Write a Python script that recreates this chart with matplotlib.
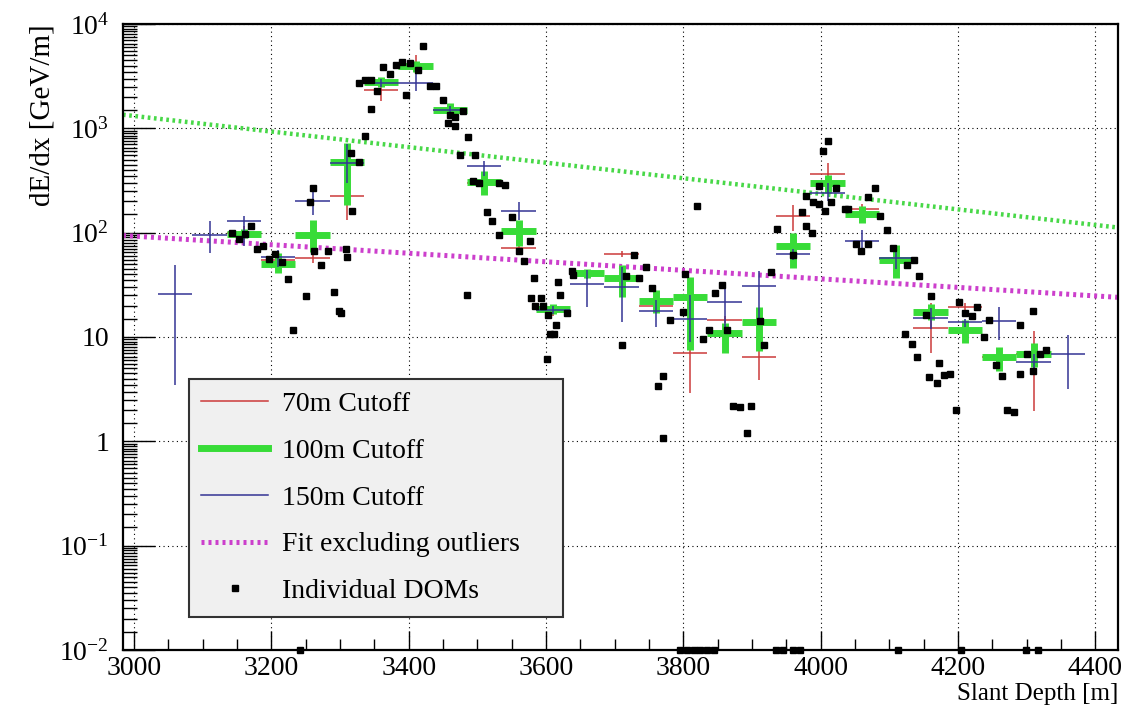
import numpy as np
import matplotlib
matplotlib.use('Agg')
import matplotlib.pyplot as plt
from matplotlib.lines import Line2D
from matplotlib.ticker import MultipleLocator, LogLocator, FixedLocator, FixedFormatter, NullFormatter

plt.rcParams['font.family'] = ['Liberation Serif', 'DejaVu Serif']
plt.rcParams['mathtext.fontset'] = 'custom'
plt.rcParams['mathtext.rm'] = 'Liberation Serif'
plt.rcParams['mathtext.it'] = 'Liberation Serif:italic'

# bins (50 m wide), values and lower / upper ends of the error bars
red_x = [3160, 3210, 3260, 3310, 3360, 3410, 3460, 3510, 3560, 3610, 3660, 3710, 3760,
         3810, 3860, 3910, 3960, 4010, 4060, 4110, 4160, 4210, 4260, 4310]
red_y = [100, 55, 57, 223, 2350, 4000, 1500, 300, 71, 18, 40, 62, 20,
         7.1, 14.7, 6.5, 143, 366, 170, 56, 12.2, 19.4, 6.5, 6.8]
red_lo = [85, 47, 51, 131, 1815, 3300, 1300, 250, 64, 16, 36, 58, 17,
          2.9, 13.5, 3.9, 103, 300, 150, 45, 7, 18, 5.5, 1.94]
red_hi = [115, 64, 69, 600, 2930, 5090, 1700, 360, 85, 20, 44, 66, 24,
          25, 16, 13, 185, 466, 190, 70, 21, 21, 7.5, 11.3]

green_x = [3160, 3210, 3260, 3310, 3360, 3410, 3460, 3510, 3560, 3610, 3660, 3710, 3760,
           3810, 3860, 3910, 3960, 4010, 4060, 4110, 4160, 4210, 4260, 4310]
green_y = [97, 50, 96, 472, 2800, 3930, 1510, 306, 103, 18.5, 41, 37, 22,
           24.3, 11, 13.8, 74, 299, 152, 55, 17.4, 11.7, 6.4, 6.8]
green_lo = [88, 41, 65, 186, 2500, 3500, 1300, 231, 74, 16.5, 37, 24, 17,
            7.5, 7, 7.3, 46, 240, 125, 37, 14.5, 8.7, 4.7, 5.2]
green_hi = [108, 64, 131, 724, 3100, 4400, 1750, 387, 133, 20.5, 45, 49, 28,
            38, 13.6, 19.6, 99, 360, 180, 77, 20.5, 14.7, 8.1, 8.7]

blue_x = [3060, 3110, 3160, 3210, 3260, 3310, 3360, 3410, 3460, 3510, 3560, 3610, 3660,
          3710, 3760, 3810, 3860, 3910, 3960, 4010, 4060, 4110, 4160, 4210, 4260,
          4310, 4360]
blue_y = [26, 96, 128, 58, 203, 470, 2720, 2720, 1500, 433, 163, 18, 32,
          30, 17.9, 15, 21.5, 31, 62, 240, 84, 57, 15.3, 13.8, 14.1,
          5.8, 6.8]
blue_lo = [3.5, 64, 74, 47, 149, 300, 2500, 2265, 1350, 347, 133, 16.5, 19.6,
           14, 12.5, 9, 12.2, 13.6, 55, 200, 64, 45, 12, 12.5, 9.4,
           5, 3.2]
blue_hi = [49, 130, 143, 68, 278, 700, 2950, 3400, 1650, 483, 195, 20, 44,
           47, 22.6, 25, 31.7, 42.5, 70, 300, 107, 72, 19, 15, 19.6,
           6.8, 10.5]

bin_half = 25

# individual DOMs
dom_x = [3143, 3153, 3161, 3170, 3179, 3188, 3197, 3206, 3215, 3225, 3250, 3232, 3260, 3256,
         3262, 3273, 3282, 3291, 3299, 3301, 3309, 3310, 3318, 3316, 3328, 3337, 3345, 3328,
         3336, 3345, 3354,
         3363, 3373, 3382, 3391, 3402, 3414, 3421, 3396, 3431, 3440, 3450, 3460, 3468, 3479,
         3458, 3468, 3486, 3475, 3496, 3493, 3503, 3531, 3540, 3485, 3514, 3522, 3531, 3550,
         3561, 3576, 3568, 3583, 3578, 3593, 3584, 3595, 3603, 3614, 3606, 3612, 3601, 3618,
         3621, 3630, 3638, 3640,
         3710, 3717, 3728, 3736, 3746, 3754, 3781, 3800, 3803, 3820, 3828, 3838, 3846, 3856,
         3864, 3770, 3763, 3771, 3873, 3882, 3899, 3892, 3911, 3918, 3928, 3936, 3973, 3979,
         3987, 3960, 3979, 3989, 3997, 3998, 4006, 4015, 4004, 4010, 4023, 4035, 4040, 4052,
         4059, 4069, 4069, 4079, 4087, 4096, 4106,
         4126, 4136, 4143, 4123, 4133, 4141, 4161, 4154, 4172, 4158, 4169, 4180, 4188, 4197,
         4202, 4210, 4220, 4227, 4238, 4245, 4255, 4264, 4272, 4281, 4291, 4291, 4300, 4309,
         4309, 4319, 4328]
dom_y = [99, 87, 97, 115, 69, 74, 56, 62, 52, 36, 24.5, 11.7, 268, 195,
         66, 49, 67, 27, 17.9, 17, 69, 59, 163, 581, 476, 851, 1533, 2722,
         2930, 2930, 2265,
         3850, 3318, 4020, 4325, 4235, 3650, 6210, 2100, 2570, 2570, 1885, 1352, 1285, 1456,
         1127, 1047, 826, 560, 560, 311, 299, 299, 289, 25.5, 157, 128, 94, 140,
         66, 84, 53, 37, 23.6, 23.6, 20, 19.7, 16.4, 13.1, 10.8, 10.8, 6.1, 34,
         25.5, 17, 42.6, 39,
         8.3, 38.7, 61.5, 37, 46.8, 29.5, 14.7, 17.2, 40.5, 182, 9.5, 11.7, 26.4, 31.6,
         11.7, 4.25, 3.37, 1.07, 2.2, 2.13, 2.2, 1.2, 14.1, 8.3, 41.6, 109, 157, 115,
         99, 61.5, 223, 197, 188, 279, 163, 197, 603, 762, 268, 169, 169, 78,
         66, 78, 220, 268, 146, 107, 71,
         48.6, 55, 38.7, 10.8, 8.6, 6.5, 24.5, 16.4, 5.6, 4.1, 3.6, 4.3, 4.4, 1.98,
         21.6, 17, 16, 19.4, 9.9, 14.7, 5.4, 4.25, 1.98, 1.89, 13.1, 4.4, 6.8, 17.9,
         4.75, 6.9, 7.55]
# DOMs with zero energy loss, drawn on the bottom axis
dom_zero_x = [3242, 3795, 3805, 3815, 3825, 3835, 3845, 3935, 3945, 3960, 3970,
              4113, 4204, 4299, 4316]

# exponential fits (straight on the log axis), values at the axis ends
fit_x = [2984, 4433]
fit_all_y = [1350, 112]
fit_excl_y = [94, 24]

ytick_vals = [1e-2, 1e-1, 1, 10, 1e2, 1e3, 1e4]
ytick_labels = ['$10^{-2}$', '$10^{-1}$', '1', '10', '$10^{2}$', '$10^{3}$', '$10^{4}$']

c_red = '#cc3a3a'
c_green = '#38dc38'
c_blue = '#343494'
c_mag = '#cc3fcc'
c_fitg = '#48d848'

fig = plt.figure(figsize=(11.25, 7.15), dpi=100)
ax = fig.add_axes([123/1125, 1 - 650/715, 995/1125, 626/715])
ax.set_yscale('log')
ax.set_xlim(2984, 4433)
ax.set_ylim(1e-2, 1e4)

ax.plot(fit_x, fit_all_y, color=c_fitg, lw=3.2, ls=(0, (0.6, 0.8)), zorder=2)
ax.plot(fit_x, fit_excl_y, color=c_mag, lw=3.6, ls=(0, (0.6, 0.8)), zorder=2)


def draw_err(x, y, lo, hi, color, lw, z):
    x = np.array(x, float)
    y = np.array(y, float)
    yerr = [y - np.array(lo), np.array(hi) - y]
    ax.errorbar(x, y, xerr=bin_half, yerr=yerr, fmt='none', ecolor=color,
                elinewidth=lw, capsize=0, zorder=z)


draw_err(red_x, red_y, red_lo, red_hi, c_red, 1.1, 3)
draw_err(green_x, green_y, green_lo, green_hi, c_green, 5.0, 4)
draw_err(blue_x, blue_y, blue_lo, blue_hi, c_blue, 1.1, 5)

ax.plot(dom_x, dom_y, 's', color='black', ms=4, ls='none', zorder=6)
ax.plot(dom_zero_x, [ax.get_ylim()[0]] * len(dom_zero_x), 's', color='black', ms=4,
        ls='none', zorder=6, clip_on=False)

# axes styling, ROOT like
ax.xaxis.set_major_locator(MultipleLocator(200))
ax.xaxis.set_minor_locator(MultipleLocator(50))
ax.yaxis.set_major_locator(FixedLocator(ytick_vals))
ax.yaxis.set_major_formatter(FixedFormatter(ytick_labels))
ax.yaxis.set_minor_locator(LogLocator(base=10, subs=np.arange(1.5, 10, 0.5), numticks=100))
ax.yaxis.set_minor_formatter(NullFormatter())
ax.tick_params(axis='both', which='both', direction='in', top=False, right=False,
               width=1.0, labelsize=20)
ax.tick_params(axis='y', which='major', length=23, pad=10)
ax.tick_params(axis='y', which='minor', length=10)
ax.tick_params(axis='x', which='major', length=14, pad=4)
ax.tick_params(axis='x', which='minor', length=8)
for s in ax.spines.values():
    s.set_linewidth(1.6)

ax.grid(True, which='major', color='black', ls=(0, (1, 3)), lw=0.8)
ax.set_axisbelow(True)

ax.set_xlabel('Slant Depth [m]', fontsize=18, loc='right')
ax.xaxis.set_label_coords(1.0, -0.052)
ax.set_ylabel('dE/dx [GeV/m]', fontsize=21, loc='top')
ax.yaxis.set_label_coords(-0.068, 1.0)

handles = [
    Line2D([], [], color=c_red, lw=1.1),
    Line2D([], [], color=c_green, lw=5),
    Line2D([], [], color=c_blue, lw=1.1),
    Line2D([], [], color=c_mag, lw=3.6, ls=(0, (0.6, 0.8))),
    Line2D([], [], color='black', marker='s', ms=4, ls='none'),
]
labels = ['70m Cutoff', '100m Cutoff', '150m Cutoff', 'Fit excluding outliers', 'Individual DOMs']
leg = ax.legend(handles, labels, loc='upper left', bbox_to_anchor=(0.0663, 0.0575, 0.376, 0.3755),
                mode='expand', fontsize=20, frameon=True, fancybox=False, framealpha=1,
                edgecolor='#333333', facecolor='#f0f0f0', borderpad=0.45, labelspacing=0.77,
                handlelength=2.4, handletextpad=0.5, borderaxespad=0)
leg.get_frame().set_linewidth(1.5)
leg.set_zorder(10)

fig.savefig('out.png', dpi=100)
